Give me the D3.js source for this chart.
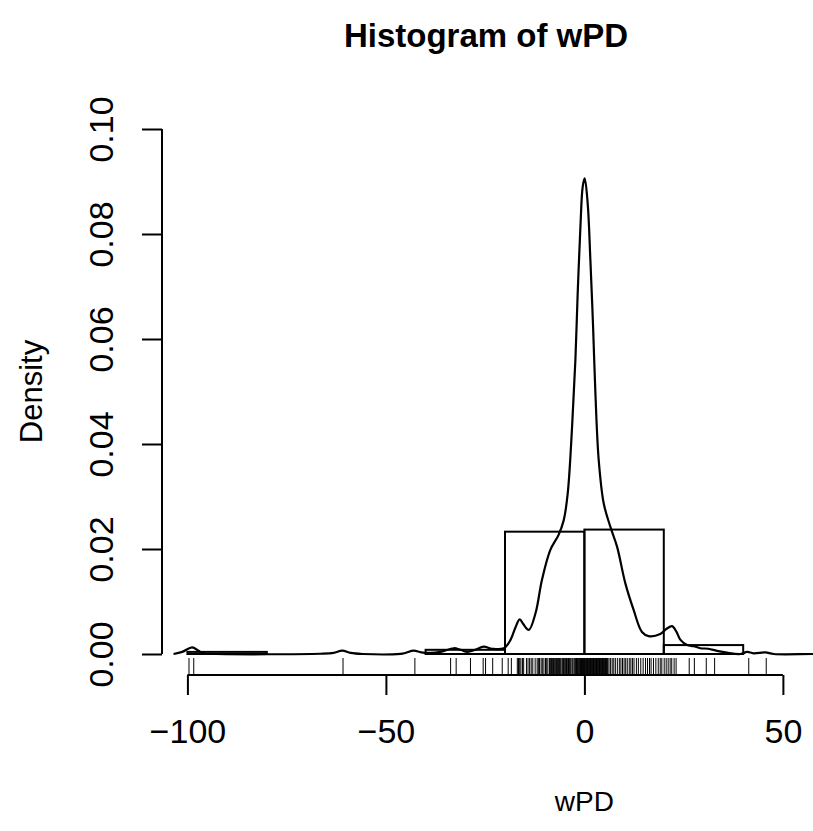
<!DOCTYPE html>
<html>
<head>
<meta charset="utf-8">
<script src="https://cdn.jsdelivr.net/npm/d3@7"></script>
<style>
  body { margin: 0; background: #fff; }
  svg { display: block; font-family: "Liberation Sans", Arial, sans-serif; }
</style>
</head>
<body>
<div id="chart"></div>
<script>
// histogram of wPD: breaks and densities
const breaks = [-100, -80, -60, -40, -20, 0, 20, 40, 60];
const densities = [0.0004, 0, 0, 0.0008, 0.0233, 0.0237, 0.0017, 0];

// kernel density curve
const densX = [-103.5, -101.3, -98.8, -97.2, -95.9, -92.9, -66.5, -63.2, -61.0, -58.9, -55.9, -46.3, -45.1, -43.0, -41.1, -38.8, -36.3, -32.9, -31.2, -29.5, -27.5, -25.4, -23.2, -20.3, -18.6, -17.4, -16.3, -15.4, -14.0, -12.3, -10.7, -8.6, -6.5, -5.2, -4.2, -3.1, -2.27, -1.69, -1.0, -0.43, 0.08, 0.83, 1.51, 2.19, 2.77, 3.6, 4.86, 6.55, 8.24, 10.3, 12.4, 14.5, 16.2, 19.1, 20.7, 22.1, 23.2, 24.2, 25.9, 27.5, 29.2, 31.2, 33.4, 35.9, 39.3, 41.0, 42.6, 45.6, 47.7, 57.7, 67];
const densY = [0, 0.0004, 0.00128, 0.0006, 0.00013, 0, 0.00005, 0.0002, 0.00063, 0.0002, 0, 0.00003, 0.0002, 0.00063, 0.0003, 0.0002, 0.0004, 0.0011, 0.0008, 0.0004, 0.0008, 0.0014, 0.001, 0.0011, 0.0027, 0.005, 0.0066, 0.0057, 0.0046, 0.0078, 0.0141, 0.0198, 0.0227, 0.0255, 0.0306, 0.0433, 0.056, 0.0687, 0.0814, 0.089, 0.0906, 0.0858, 0.075, 0.0623, 0.0497, 0.037, 0.0287, 0.0242, 0.0204, 0.0135, 0.0084, 0.0042, 0.0034, 0.0038, 0.0048, 0.0053, 0.0042, 0.0027, 0.0017, 0.0015, 0.0011, 0.001, 0.0006, 0.00025, 0, 0.0004, 0.00013, 0.0003, 0, 0, 0];

// rug: individual wPD observations
const rugValues = [-99.6, -98.4, -60.8, -42.7, -33.7, -32.3, -28.7, -25.5, -24.9, -23.1, -20.7, -19.2, -18.4,
  -16.9, -16.6, -16.3, -16.0, -15.6, -15.3, -14.6, -14.2, -13.8, -13.4, -13.0, -12.4, -11.9, -11.6, -11.3,
  -10.9, -10.6, -10.2, -9.8, -9.5, -9.2, -8.8, -8.5, -8.3, -8.0, -7.8, -7.6, -7.4, -7.2, -7.0, -6.8, -6.5,
  -6.3, -6.1, -5.9, -5.6, -5.4, -5.3, -5.1, -4.9, -4.7, -4.5, -4.3, -4.0, -3.8, -3.6, -3.4, -3.1, -2.9,
  -2.6, -2.4, -2.2, -2.0, -1.9, -1.7, -1.6, -1.4, -1.3, -1.1, -1.0, -0.8, -0.7, -0.5, -0.4, -0.2, -0.1,
  0.05, 0.2, 0.35, 0.5, 0.65, 0.8, 0.95, 1.1, 1.25, 1.4, 1.55, 1.7, 1.85, 2.0, 2.15, 2.3, 2.45, 2.6, 2.75,
  2.9, 3.05, 3.2, 3.35, 3.5, 3.65, 3.8, 3.95, 4.1, 4.25, 4.4, 4.55, 4.7, 4.85, 5.0, 5.15, 5.3, 5.45, 5.6,
  5.75, 5.9, 6.2, 6.6, 7.0, 7.4, 7.8, 8.3, 8.8, 9.2, 9.6, 10.0, 10.4, 10.8, 11.3, 11.7, 12.1, 12.5, 13.1,
  13.6, 14.2, 14.8, 15.4, 15.9, 16.4, 16.8, 17.4, 18.0, 18.6, 19.1, 19.5, 20.1, 20.6, 21.1, 21.6, 22.0,
  22.6, 23.1, 26.4, 27.7, 30.7, 32.8, 41.4, 45.8];

const yTicks = [0, 0.02, 0.04, 0.06, 0.08, 0.10];
const xTicks = [-100, -50, 0, 50];

const width = 813, height = 831;
const margin = {top: 108, left: 162};
const plotW = 686, plotH = 567;

const x = d3.scaleLinear().domain([-106.4, 66.4]).range([margin.left, margin.left + plotW]);
const y = d3.scaleLinear().domain([-0.004, 0.104]).range([margin.top + plotH, margin.top]);

const svg = d3.select("#chart").append("svg")
  .attr("width", width)
  .attr("height", height);

const plot = svg.append("g");

// histogram bars
plot.selectAll("rect.bar")
  .data(densities)
  .enter()
  .append("rect")
  .attr("class", "bar")
  .attr("x", (d, i) => x(breaks[i]))
  .attr("width", (d, i) => x(breaks[i + 1]) - x(breaks[i]))
  .attr("y", d => y(d))
  .attr("height", d => y(0) - y(d))
  .attr("fill", "none")
  .attr("stroke", "#000")
  .attr("stroke-width", 2);

// density line
const line = d3.line()
  .x((d, i) => x(densX[i]))
  .y(d => y(d))
  .curve(d3.curveCatmullRom.alpha(0.5));

plot.append("path")
  .attr("d", line(densY))
  .attr("fill", "none")
  .attr("stroke", "#000")
  .attr("stroke-width", 2.2);

// rug
const rugLen = plotH * 0.03;
plot.selectAll("line.rug")
  .data(rugValues)
  .enter()
  .append("line")
  .attr("class", "rug")
  .attr("x1", d => x(d))
  .attr("x2", d => x(d))
  .attr("y1", y.range()[0])
  .attr("y2", y.range()[0] - rugLen)
  .attr("stroke", "#000")
  .attr("stroke-width", 1);

// x axis
const xAxis = svg.append("g")
  .attr("transform", `translate(0, ${margin.top + plotH})`)
  .call(d3.axisBottom(x).tickValues(xTicks).tickSize(20).tickPadding(24).tickSizeOuter(0).tickFormat(d3.format("d")));
xAxis.select(".domain").attr("d", `M${x(-100)},0H${x(50)}`);

// y axis
const yAxis = svg.append("g")
  .attr("transform", `translate(${margin.left}, 0)`)
  .call(d3.axisLeft(y).tickValues(yTicks).tickSize(20).tickSizeOuter(0).tickFormat(d3.format(".2f")));
yAxis.select(".domain").attr("d", `M0,${y(0)}V${y(0.1)}`);

svg.selectAll(".tick line, .domain").attr("stroke", "#000").attr("stroke-width", 2);
svg.selectAll(".tick text").attr("fill", "#000").style("font-size", "34px");

yAxis.selectAll(".tick text")
  .attr("x", null).attr("dy", null)
  .attr("text-anchor", "middle")
  .attr("transform", "translate(-61,0) rotate(-90)")
  .attr("dy", "0.35em");

// titles
svg.append("text")
  .attr("x", 486)
  .attr("y", 47)
  .attr("text-anchor", "middle")
  .style("font-size", "33px")
  .style("font-weight", "bold")
  .text("Histogram of wPD");

svg.append("text")
  .attr("x", x(0))
  .attr("y", 811)
  .attr("text-anchor", "middle")
  .style("font-size", "28px")
  .text("wPD");

svg.append("text")
  .attr("transform", `translate(42, ${margin.top + plotH / 2}) rotate(-90)`)
  .attr("text-anchor", "middle")
  .style("font-size", "31px")
  .text("Density");
</script>
</body>
</html>
